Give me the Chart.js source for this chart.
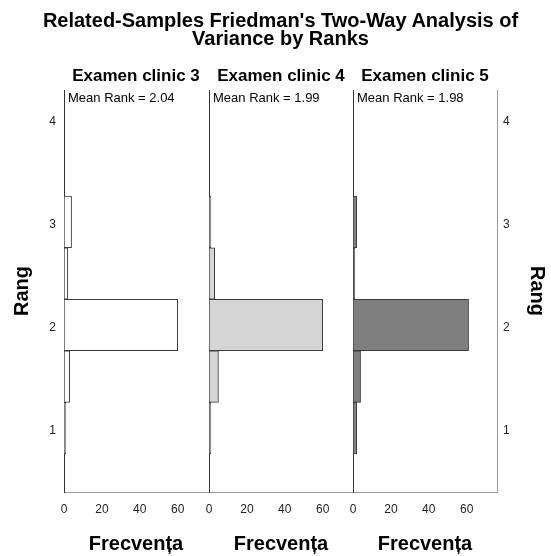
<!DOCTYPE html>
<html>
<head>
<meta charset="utf-8">
<script src="https://cdn.jsdelivr.net/npm/chart.js@4"></script>
<style>
  body { margin: 0; background: #fff; }
  #wrap { position: relative; width: 551px; height: 556px; font-family: 'Liberation Sans', Arial, sans-serif; color: #000; }
  #wrap canvas { position: absolute; left: 0; top: 0; }
  .title { position: absolute; left: 0; top: 11px; width: 561px; text-align: center; font-weight: bold; font-size: 20px; line-height: 18px; }
  .panel-title { position: absolute; top: 66px; width: 144px; text-align: center; font-weight: bold; font-size: 17px; line-height: 20px; white-space: nowrap; }
  .mean { position: absolute; top: 91px; font-size: 13px; line-height: 14px; white-space: nowrap; }
</style>
</head>
<body>
<div id="wrap">
  <canvas id="c0" width="551" height="556"></canvas>
  <canvas id="c1" width="551" height="556"></canvas>
  <canvas id="c2" width="551" height="556"></canvas>
  <div class="title">Related-Samples Friedman's Two-Way Analysis of<br>Variance by Ranks</div>
</div>
<script>
// bin centres on the rank axis (bin width 0.5)
const rankBins = [1, 1.5, 2, 2.5, 3];
const panelNames = ['Examen clinic 3', 'Examen clinic 4', 'Examen clinic 5'];
const meanRanks = ['2.04', '1.99', '1.98'];
const freq3 = [1, 3, 60, 2, 4];
const freq4 = [1, 5, 60, 3, 1];
const freq5 = [2, 4, 61, 1, 2];
const freqTicks = [0, 20, 40, 60];
const rankTicks = [1, 2, 3, 4];
const fills = ['#ffffff', '#d5d5d5', '#7f7f7f'];

const FONT = "'Liberation Sans', Arial, sans-serif";
const W = 551, H = 556;
const areaTop = 90, areaBottom = 492;
const lefts = [64, 209, 353];
const panelW = 144;

function setTicks(values) {
  return scale => { scale.ticks = values.map(v => ({ value: v })); };
}

function makePanel(i, counts) {
  const left = lefts[i];
  const right = left + panelW;
  const isFirst = i === 0, isLast = i === 2;

  const scales = {
    x: {
      type: 'linear',
      min: 0,
      max: 76,
      afterBuildTicks: setTicks(freqTicks),
      afterFit: s => { s.height = H - areaBottom; },
      grid: { display: false, drawTicks: false },
      border: { display: true, color: '#9a9a9a', width: 1 },
      ticks: { color: '#222', padding: 10, font: { family: FONT, size: 12 }, maxRotation: 0 },
      title: { display: true, text: 'Frecvența', color: '#000', padding: { top: 0, bottom: 0 },
               font: { family: FONT, size: 20, weight: 'bold' } }
    },
    y: {
      type: 'linear',
      position: 'left',
      offset: false,
      min: 0.38,
      max: 4.28,
      afterBuildTicks: setTicks(rankTicks),
      afterFit: s => { s.width = isFirst ? left : 0; },
      grid: { display: false, drawTicks: false },
      border: { display: true, color: '#333', width: 1 },
      ticks: { display: isFirst, color: '#222', padding: 8, labelOffset: 3, font: { family: FONT, size: 12 } },
      title: { display: isFirst, text: 'Rang', color: '#000', padding: { top: 10, bottom: 0 },
               font: { family: FONT, size: 20, weight: 'bold' } }
    }
  };

  if (isLast) {
    scales.y2 = {
      type: 'linear',
      position: 'right',
      offset: false,
      min: 0.38,
      max: 4.28,
      afterBuildTicks: setTicks(rankTicks),
      afterFit: s => { s.width = W - right; },
      grid: { display: false, drawTicks: false },
      border: { display: true, color: '#9a9a9a', width: 1 },
      ticks: { color: '#222', padding: 6, labelOffset: 3, font: { family: FONT, size: 12 } },
      title: { display: true, text: 'Rang', color: '#000', padding: { top: 2, bottom: 0 },
               font: { family: FONT, size: 20, weight: 'bold' } }
    };
  }

  new Chart(document.getElementById('c' + i), {
    type: 'bar',
    data: {
      datasets: [{
        data: rankBins.map((r, k) => ({ x: counts[k], y: r })),
        yAxisID: 'y',
        backgroundColor: fills[i],
        borderColor: '#3c3c3c',
        borderWidth: 1,
        borderSkipped: false,
        barPercentage: 1,
        categoryPercentage: 1
      }]
    },
    options: {
      indexAxis: 'y',
      responsive: false,
      animation: false,
      events: [],
      layout: { padding: { left: isFirst ? 0 : left, right: isLast ? 0 : W - right, top: areaTop, bottom: 0 } },
      plugins: { legend: { display: false }, tooltip: { enabled: false } },
      scales: scales
    }
  });

  const wrap = document.getElementById('wrap');
  const t = document.createElement('div');
  t.className = 'panel-title';
  t.style.left = left + 'px';
  t.textContent = panelNames[i];
  wrap.appendChild(t);

  const m = document.createElement('div');
  m.className = 'mean';
  m.style.left = (left + 4) + 'px';
  m.textContent = 'Mean Rank = ' + meanRanks[i];
  wrap.appendChild(m);
}

makePanel(0, freq3);
makePanel(1, freq4);
makePanel(2, freq5);
</script>
</body>
</html>
